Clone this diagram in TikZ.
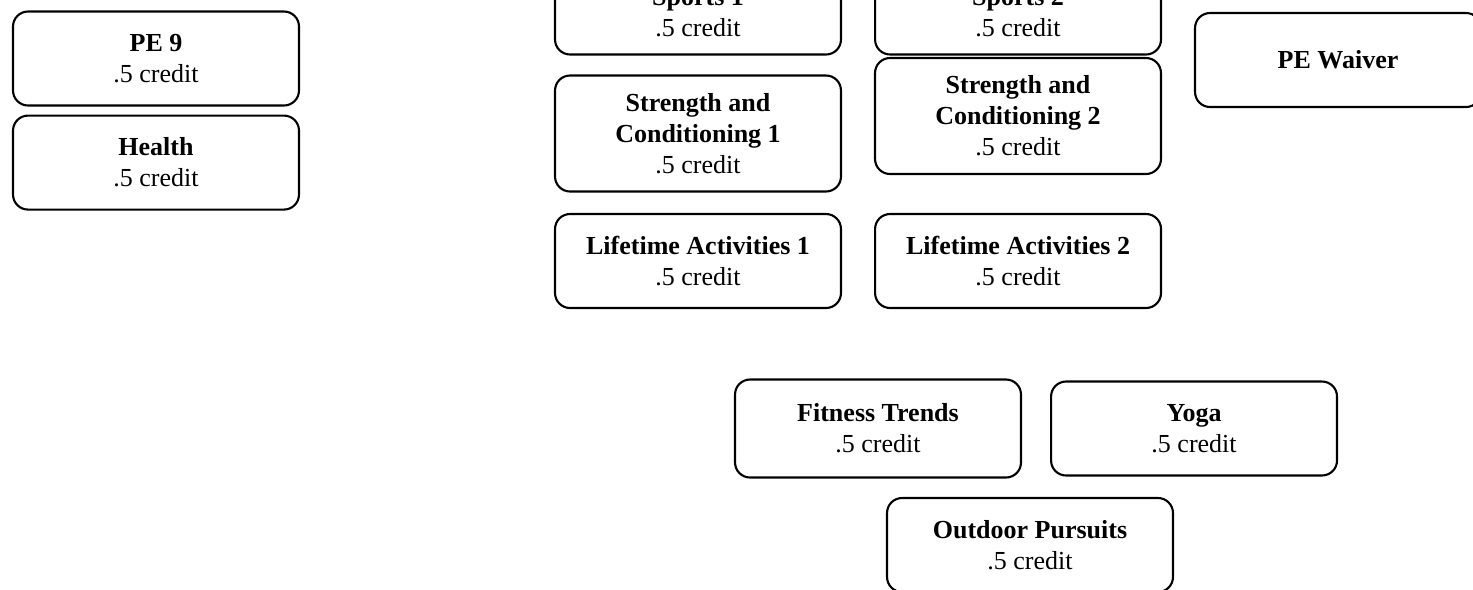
\documentclass[tikz,border=0pt]{standalone}
\usepackage{fontspec}
\setmainfont{Liberation Serif}
\usetikzlibrary{positioning}
\newcommand{\Credit}{.5 credit}
\tikzset{
    course/.style={draw, line width=1.2pt, rounded corners=0.3cm, minimum width=5.72cm,
      minimum height=1.88cm, align=center, inner sep=2pt,
      font=\fontsize{14.8}{17.6}\selectfont},
    tall/.append style={minimum height=2.32cm},
}

\begin{document}
\begin{tikzpicture}[x=0.02cm, y=-0.02cm]
    \useasboundingbox (0,0) rectangle (1473,589);

    % required courses
    \node[course] (pe9) at (156,58.5) {\textbf{PE 9}\\\Credit};
    \node[course, below=0.16cm of pe9] (health) {\textbf{Health}\\\Credit};

    % electives, first block
    \node[course, minimum height=1.66cm] (sp1) at (698,13) {\textbf{Sports 1}\\\Credit};
    \node[course, minimum height=1.66cm, right=0.64cm of sp1] (sp2) {\textbf{Sports 2}\\\Credit};
    \node[course, tall] (sc1) at (698,133.5) {\textbf{Strength and}\\\textbf{Conditioning 1}\\\Credit};
    \node[course, tall] (sc2) at (1018,116) {\textbf{Strength and}\\\textbf{Conditioning 2}\\\Credit};
    \node[course] (la1) at (698,261) {\textbf{Lifetime Activities 1}\\\Credit};
    \node[course, right=0.64cm of la1] (la2) {\textbf{Lifetime Activities 2}\\\Credit};

    \node[course] (waiver) at (1338,60) {\textbf{PE Waiver}};

    % electives, second block
    \node[course, minimum height=1.96cm] (fit) at (878,428.5) {\textbf{Fitness Trends}\\\Credit};
    \node[course, right=0.56cm of fit] (yoga) {\textbf{Yoga}\\\Credit};
    \node[course] (out) at (1030,545) {\textbf{Outdoor Pursuits}\\\Credit};
\end{tikzpicture}
\end{document}
